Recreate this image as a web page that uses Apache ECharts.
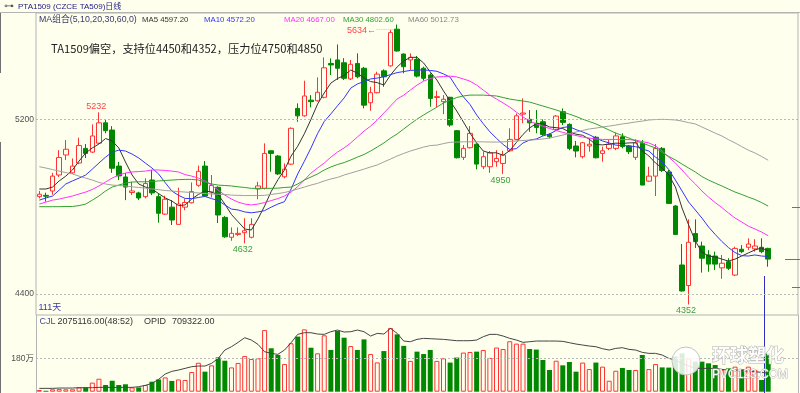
<!DOCTYPE html>
<html><head><meta charset="utf-8">
<script src="https://cdn.jsdelivr.net/npm/echarts@6/dist/echarts.min.js"></script>
<style>html,body{margin:0;padding:0;background:#ffffee}#c{width:800px;height:393px}</style>
</head><body><div id="c"></div>
<script>
// ---------- data ----------
const days = Array.from({length: 115}, (_, i) => (i < 111 ? 'D' + (i + 1) : 'E' + (i - 110)));

const openP = [4846,4852,4872,4945,5037,4955,5000,5067,5050,5091,
 5184,5151,4986,4936,4865,4863,4846,4922,4846,4766,
 4798,4719,4798,4818,4898,4986,4867,4889,4751,4660,
 4673,4681,4660,4881,4884,5056,5032,4937,4995,5250,
 5216,5288,5285,5301,5456,5472,5459,5385,5456,5434,
 5276,5322,5422,5445,5613,5499,5472,5475,5434,5403,
 5300,5281,5301,5148,5026,5070,5086,4983,4983,5006,
 4998,5056,5108,5224,5200,5182,5189,5131,5154,5235,
 5177,5078,5029,5078,5118,5044,5067,5067,5120,5078,
 5026,5090,4917,4940,5067,4959,4803,4533,4439,4677,
 4620,4579,4574,4520,4548,4487,4605,4614,4607,4614,
 4609];
const closeP = [4857,4848,4940,5025,5063,4986,5080,5044,5124,5184,
 5148,4976,4941,4890,4872,4840,4906,4863,4770,4834,
 4739,4812,4819,4869,4962,4849,4897,4762,4662,4678,
 4678,4690,4719,4895,5044,5044,4950,4972,5159,5216,
 5307,5281,5324,5436,5449,5434,5388,5452,5395,5265,
 5322,5407,5395,5597,5513,5441,5484,5398,5388,5296,
 5304,5292,5174,5024,5067,5136,4995,5029,5047,5021,
 5037,5108,5216,5229,5184,5163,5131,5120,5215,5186,
 5067,5055,5093,5086,5024,5056,5086,5124,5075,5052,
 5093,4899,4940,5067,4966,4815,4673,4414,4637,4640,
 4564,4537,4537,4541,4518,4609,4594,4629,4620,4594,
 4560];
const lowP = [4838,4823,4855,4936,5014,4950,4995,5023,5046,5087,
 5136,4955,4922,4830,4853,4830,4838,4853,4727,4762,
 4716,4718,4784,4815,4891,4846,4842,4725,4657,4644,
 4666,4632,4655,4834,4879,4960,4945,4930,4991,5189,
 5212,5255,5281,5296,5403,5380,5380,5380,5388,5250,
 5239,5319,5349,5441,5510,5411,5426,5392,5377,5258,
 5255,5224,5166,5021,5014,5067,4971,4972,4955,4983,
 4950,5052,5105,5182,5143,5136,5124,5113,5148,5174,
 5059,5026,5021,5052,5021,5006,5059,5059,5067,5041,
 5014,4899,4914,4849,4959,4812,4670,4411,4352,4611,
 4498,4502,4510,4470,4510,4482,4587,4601,4594,4587,
 4525];
const highP = [4872,4864,4955,5059,5105,5021,5116,5087,5177,5232,
 5197,5169,5005,4954,4914,4868,4930,4968,4861,4850,
 4830,4887,4835,4911,4988,5009,4945,4893,4757,4705,
 4705,4747,4747,4914,5090,5059,5037,4998,5163,5273,
 5377,5311,5392,5484,5479,5543,5480,5472,5502,5440,
 5349,5418,5429,5609,5634,5502,5502,5490,5441,5411,
 5331,5311,5303,5151,5082,5169,5090,5052,5055,5059,
 5056,5159,5227,5296,5243,5243,5200,5136,5220,5250,
 5182,5101,5097,5113,5124,5075,5105,5139,5136,5082,
 5108,5105,4983,5087,5073,4968,4808,4629,4742,4742,
 4640,4601,4594,4579,4564,4617,4624,4655,4651,4655,
 4612];

const ma5 = [4881,4881,4890,4918,4940,4968,5009,5046,5069,5087,
 5112,5101,5069,5005,4945,4904,4890,4881,4860,4840,
 4826,4805,4808,4835,4856,4872,4867,4855,4812,4764,
 4731,4698,4693,4744,4803,4870,4923,4968,5032,5077,
 5134,5200,5270,5321,5366,5387,5401,5426,5412,5389,
 5373,5368,5357,5403,5440,5467,5484,5484,5458,5417,
 5380,5330,5284,5238,5188,5137,5092,5055,5046,5047,
 5035,5057,5094,5131,5161,5180,5180,5165,5162,5158,
 5142,5132,5127,5109,5085,5083,5087,5091,5090,5092,
 5093,5055,5032,5000,4977,4945,4890,4794,4716,4643,
 4592,4574,4570,4560,4551,4560,4574,4588,4602,4611,
 4597.2];
const ma10 = [4830,4840,4849,4876,4904,4918,4931,4945,4972,5000,
 5027,5050,5059,5055,5041,5023,5000,4977,4950,4910,
 4872,4852,4838,4837,4842,4847,4837,4828,4808,4789,
 4785,4776,4772,4776,4782,4798,4812,4823,4881,4950,
 5008,5069,5135,5190,5225,5262,5298,5343,5362,5373,
 5385,5389,5395,5405,5414,5419,5424,5426,5426,5424,
 5420,5408,5393,5345,5303,5268,5220,5180,5143,5113,
 5085,5062,5066,5092,5105,5110,5124,5133,5149,5163,
 5166,5153,5142,5130,5114,5101,5092,5082,5080,5078,
 5075,5064,5055,5027,5005,4970,4922,4872,4821,4785,
 4748,4707,4673,4641,4613,4590,4576,4574,4579,4574,
 4572.2];
const ma20 = [4812,4821,4830,4835,4842,4849,4858,4867,4879,4895,
 4913,4931,4945,4954,4959,4961,4963,4968,4968,4966,
 4963,4959,4947,4940,4931,4918,4899,4876,4853,4835,
 4821,4812,4808,4812,4819,4828,4837,4849,4867,4892,
 4922,4954,4977,5000,5027,5050,5069,5092,5119,5146,
 5169,5197,5229,5261,5293,5311,5334,5357,5375,5387,
 5394,5396,5398,5394,5385,5375,5357,5334,5311,5293,
 5275,5256,5233,5211,5192,5179,5169,5158,5149,5140,
 5133,5126,5119,5114,5110,5108,5108,5108,5108,5107,
 5105,5098,5092,5078,5055,5027,5000,4968,4934,4904,
 4872,4844,4819,4796,4771,4748,4730,4711,4698,4684,
 4667];
const ma30 = [4800,4800,4800,4800,4801,4801,4805,4812,4830,4849,
 4872,4890,4899,4908,4913,4914,4914,4915,4918,4920,
 4922,4924,4925,4925,4922,4913,4904,4899,4897,4895,
 4891,4888,4884,4884,4884,4884,4885,4888,4890,4904,
 4922,4936,4950,4968,4982,4993,5002,5014,5027,5039,
 5055,5073,5092,5114,5133,5156,5179,5201,5220,5238,
 5256,5275,5288,5300,5307,5311,5311,5311,5309,5307,
 5300,5293,5288,5284,5279,5270,5261,5252,5243,5233,
 5224,5213,5201,5190,5179,5165,5151,5137,5126,5114,
 5101,5092,5080,5069,5048,5030,5014,4995,4977,4959,
 4938,4922,4908,4895,4881,4867,4856,4844,4833,4819,
 4802.6];
const ma60 = [4983,4977,4970,4963,4956,4950,4940,4931,4922,4911,
 4904,4899,4897,4895,4891,4888,4885,4881,4878,4874,
 4872,4869,4867,4865,4863,4860,4858,4857,4856,4853,
 4852,4851,4851,4851,4852,4856,4860,4865,4872,4881,
 4890,4899,4907,4918,4927,4934,4945,4954,4963,4972,
 4982,4991,5005,5018,5032,5044,5055,5064,5073,5080,
 5082,5089,5095,5096,5097,5097,5097,5097,5096,5096,
 5097,5099,5101,5103,5105,5107,5110,5114,5121,5128,
 5135,5142,5149,5156,5160,5165,5169,5174,5179,5183,
 5188,5192,5197,5199,5200,5199,5197,5192,5185,5179,
 5165,5151,5137,5124,5107,5092,5075,5059,5046,5030,
 5012.73];

// volume in 万 (10k lots)
const volWan = [9,5,13,14,13,13,23,23,49,70,
 36,59,36,40,23,23,36,54,66,77,
 58,66,63,106,156,108,142,185,167,131,
 155,192,176,180,332,234,198,149,261,297,
 336,237,207,304,225,327,291,246,225,282,
 203,158,219,343,309,247,166,216,203,225,
 166,180,157,184,211,214,216,225,182,238,
 230,272,259,259,230,227,171,117,167,142,
 160,108,157,122,157,135,59,113,128,117,
 117,198,122,149,131,130,190,207,180,162,
 162,153,144,117,126,135,121,135,117,63,
 207.5116];
const opid = [128500,128500,128500,141350,141350,141350,154200,154200,154200,167050,
 167050,167050,167050,167050,167050,192750,244150,321250,475450,681050,
 783850,835250,899500,963750,989450,989450,1092250,1285000,1606250,1734750,
 1901800,2081700,1991750,1824700,1542000,1477750,1439200,1606250,1888950,2210200,
 2274450,2274450,2223050,2210200,2313000,2377250,2300150,2313000,2377250,2313000,
 2145950,2248750,2223050,2441500,2248750,1953200,1927500,2017450,2056000,2043150,
 2030300,2017450,1991750,1966050,1966050,1966050,1991750,2120250,2210200,2210200,
 2145950,2056000,1991750,1901800,1927500,1953200,1953200,1953200,1953200,1940350,
 1888950,1837550,1799000,1760450,1734750,1657650,1606250,1670500,1696200,1631950,
 1606250,1516300,1477750,1477750,1413500,1285000,1220750,1092250,989450,899500,
 899500,899500,899500,860950,835250,835250,809550,796700,771000,745300,
 709322];

const priceTicks = [5200, 4400];
const volTick = 180;

// ---------- style ----------
const BG = '#ffffee';
const UP = '#ff3333';
const DOWN = '#008800';
const LBLGREEN = '#3ca03c';
const FONT = '"Liberation Sans","Noto Sans CJK SC",sans-serif';
const last = closeP.length - 1;

const kData = openP.map((o, i) => [o, closeP[i], lowP[i], highP[i]]);
const volData = volWan.map((v, i) => ({
  value: v,
  itemStyle: closeP[i] >= openP[i]
    ? {color: BG, borderColor: UP, borderWidth: 1}
    : {color: DOWN, borderColor: DOWN, borderWidth: 0}
}));

function maLine(data, color) {
  return {type: 'line', xAxisIndex: 0, yAxisIndex: 0, data: data, symbol: 'none',
    silent: true, z: 3, lineStyle: {color: color, width: 1}};
}

const chart = echarts.init(document.getElementById('c'), null, {renderer: 'canvas'});

const txt = (x, y, text, fill, size, extra) => Object.assign({
  type: 'text', z: 50, silent: true,
  style: {x: x, y: y, text: text, fill: fill, font: size + 'px ' + FONT, align: 'left', verticalAlign: 'middle'}
}, extra || {});
const ln = (x1, y1, x2, y2, color) => ({
  type: 'line', silent: true, z: 1,
  shape: {x1: x1, y1: y1, x2: x2, y2: y2}, style: {stroke: color, lineWidth: 1}
});

const option = {
  backgroundColor: BG,
  animation: false,
  grid: [
    {left: 36, right: 2, top: 13, height: 302, show: true, borderColor: '#b4b4b4', borderWidth: 1, backgroundColor: 'transparent'},
    {left: 36, right: 2, top: 315, bottom: 1.3, show: false}
  ],
  xAxis: [
    {type: 'category', gridIndex: 0, data: days, boundaryGap: true, show: false},
    {type: 'category', gridIndex: 1, data: days, boundaryGap: true, show: false}
  ],
  yAxis: [
    {type: 'value', gridIndex: 0, min: 4304, max: 5687, show: false},
    {type: 'value', gridIndex: 1, min: 0, max: 413.4, show: false},
    {type: 'value', gridIndex: 1, min: 0, max: 2957000, show: false}
  ],
  series: [
    {
      type: 'candlestick', name: 'K', xAxisIndex: 0, yAxisIndex: 0, data: kData,
      barWidth: 5, z: 2, silent: true,
      itemStyle: {color: BG, color0: DOWN, borderColor: UP, borderColor0: DOWN, borderWidth: 1},
      markPoint: {
        symbol: 'circle', symbolSize: 0, silent: true,
        label: {show: true, position: 'inside', fontFamily: FONT, fontSize: 9},
        data: [
          {coord: [days[9], highP[9]], value: highP[9], label: {color: '#ff4444', offset: [-2.6, -6]}},
          {coord: [days[31], lowP[31]], value: lowP[31], label: {color: LBLGREEN, offset: [-2, 6.5]}},
          {coord: [days[70], lowP[70]], value: lowP[70], label: {color: LBLGREEN, offset: [-2.7, 6.7]}},
          {coord: [days[98], lowP[98]], value: lowP[98], label: {color: LBLGREEN, offset: [-2.7, 6.3]}},
          {coord: [days[54], highP[54]], value: highP[54],
           label: {color: '#ff4444', align: 'right', offset: [-3, 6], formatter: highP[54] + '\u2190\u2508\u2508'}}
        ]
      }
    },
    maLine(ma5, '#333333'),
    maLine(ma10, '#3333ff'),
    maLine(ma20, '#ff33ff'),
    maLine(ma30, '#33a033'),
    Object.assign(maLine(ma60, '#a0a0a0'), {
      markLine: {
        silent: true, symbol: 'none',
        lineStyle: {color: '#b8b8b8', type: [2, 2], width: 1},
        label: {show: true, position: 'start', distance: 2, color: '#505050', fontFamily: FONT, fontSize: 8.5},
        data: priceTicks.map(v => ({yAxis: v}))
      }
    }),
    {
      type: 'bar', xAxisIndex: 1, yAxisIndex: 1, data: volData, barWidth: 5, silent: true, z: 2,
      markLine: {
        silent: true, symbol: 'none',
        lineStyle: {color: '#b8b8b8', type: [2, 2], width: 1},
        label: {show: true, position: 'start', distance: 2, color: '#505050', fontFamily: FONT, fontSize: 8.5,
          formatter: volTick + '万'},
        data: [{yAxis: volTick}]
      }
    },
    {
      type: 'line', xAxisIndex: 1, yAxisIndex: 2, data: opid, symbol: 'none', silent: true, z: 4,
      lineStyle: {color: '#444444', width: 1}
    }
  ],
  graphic: [
    ln(0, 12.5, 800, 12.5, '#b4b4b4'),
    ln(36.5, 315, 36.5, 393, '#b4b4b4'),
    ln(798.5, 315, 798.5, 393, '#b4b4b4'),
    ln(0.5, 13, 0.5, 73, '#707070'),
    ln(0.5, 142, 0.5, 393, '#707070'),
    ln(764.5, 276, 764.5, 393, '#3030c0'),
    ln(792, 207.5, 800, 207.5, '#6a6aa8'),
    ln(785, 259.5, 800, 259.5, '#6a6aa8'),
    ln(792, 287.5, 800, 287.5, '#6a6aa8'),
    txt(4, 6, '\u22B6', '#555555', 10),
    txt(18, 6.5, 'PTA1509 (CZCE TA509)日线', '#1a1a80', 8),
    txt(39, 20, 'MA组合(5,10,20,30,60,0)', '#3a3a6a', 8.8),
    txt(142, 20, 'MA5 ' + ma5[last].toFixed(2), '#333333', 7.8),
    txt(204, 20, 'MA10 ' + ma10[last].toFixed(2), '#3333ff', 7.8),
    txt(284, 20, 'MA20 ' + ma20[last].toFixed(2), '#ff33ff', 7.8),
    txt(343, 20, 'MA30 ' + ma30[last].toFixed(2), '#33a033', 7.8),
    txt(408, 20, 'MA60 ' + ma60[last].toFixed(2), '#888888', 7.8),
    {type: 'text', z: 50, silent: true, style: {x: 51, y: 49, text: 'TA1509偏空，支持位4450和4352，压力位4750和4850',
      fill: '#222222', font: '11.2px "Noto Sans CJK SC",sans-serif', align: 'left', verticalAlign: 'middle'}},
    txt(38.5, 307.5, closeP.length + '天', '#3a3aa0', 9),
    txt(39.5, 321.7, 'CJL', '#4a4a9a', 9),
    txt(57.5, 321.7, (volWan[last] * 10000).toFixed(2) + '(48:52)', '#333333', 9),
    txt(144, 321.7, 'OPID', '#333333', 9),
    txt(172, 321.7, opid[last].toFixed(2), '#333333', 9),
    {type: 'circle', z: 60, silent: true, shape: {cx: 686, cy: 361, r: 14},
      style: {fill: 'rgba(255,255,255,0.85)', stroke: '#c4c4c4', lineWidth: 1}},
    {type: 'text', z: 60, silent: true, style: {x: 712, y: 355, text: '环球塑化', fill: 'rgba(255,255,255,0.92)',
      stroke: '#b0b0b0', lineWidth: 1, font: 'bold 18px "Noto Sans CJK SC",sans-serif', align: 'left', verticalAlign: 'middle'}},
    {type: 'text', z: 60, silent: true, style: {x: 712, y: 375, text: 'PVC123.COM', fill: 'rgba(255,255,255,0.92)',
      stroke: '#b0b0b0', lineWidth: 0.8, font: '12px "Liberation Sans",sans-serif', align: 'left', verticalAlign: 'middle'}}
  ]
};
chart.setOption(option);
</script></body></html>
